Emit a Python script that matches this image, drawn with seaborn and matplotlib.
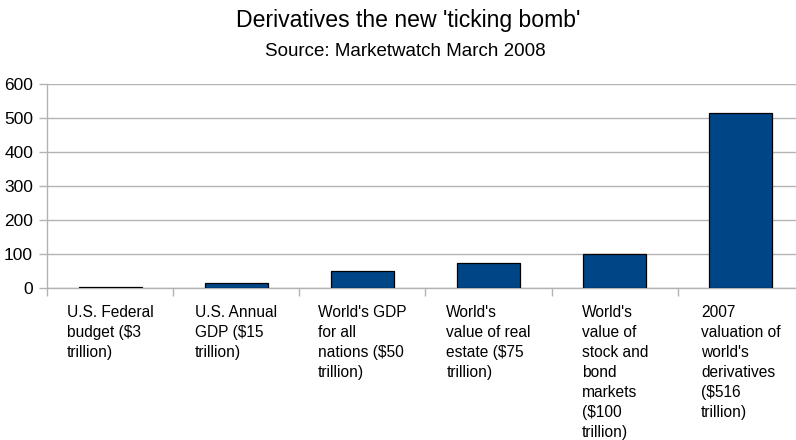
import matplotlib
matplotlib.use("Agg")
import matplotlib.pyplot as plt
import seaborn as sns
import numpy as np

# Category labels (wrapped as shown on the axis) and values in $ trillion
categories = [
    "U.S. Federal\nbudget ($3\ntrillion)",
    "U.S. Annual\nGDP ($15\ntrillion)",
    "World's GDP\nfor all\nnations ($50\ntrillion)",
    "World's\nvalue of real\nestate ($75\ntrillion)",
    "World's\nvalue of\nstock and\nbond\nmarkets\n($100\ntrillion)",
    "2007\nvaluation of\nworld's\nderivatives\n($516\ntrillion)",
]
values = [3, 15, 50, 75, 100, 516]
y_ticks = [0, 100, 200, 300, 400, 500, 600]

title = "Derivatives the new 'ticking bomb'"
subtitle = "Source: Marketwatch March 2008"

sns.set_theme(style="white")
plt.rcParams["font.family"] = ["Liberation Sans", "DejaVu Sans"]

fig = plt.figure(figsize=(7.96, 4.40), dpi=100)
ax = fig.add_axes([47 / 796, 1 - 288 / 440, (804 - 47) / 796, (288 - 84) / 440])

grid_col = "#b3b3b3"
sns.barplot(x=list(range(len(values))), y=values, color="#004586",
            saturation=1, width=0.5, edgecolor="black", linewidth=0.9,
            ax=ax, zorder=3)

ax.set_xlim(-0.5, len(values) - 0.5)
ax.set_ylim(0, 600)
ax.set_yticks(y_ticks)
ax.set_yticklabels([str(v) for v in y_ticks], fontsize=12.5, color="#000000")
ax.yaxis.grid(True, color=grid_col, linewidth=1.0, zorder=0)
ax.xaxis.grid(False)

# Category labels under each slot, block centered with left-aligned lines
ax.set_xticks(range(len(categories)))
ax.set_xticklabels(categories, fontsize=11.2, color="#000000",
                   ha="center", va="top", multialignment="left",
                   linespacing=1.42)
ax.tick_params(axis="x", which="major", length=0, pad=12)

# Boundary tick marks between categories
ax.set_xticks(np.arange(-0.5, len(categories) + 0.5, 1), minor=True)
ax.tick_params(axis="x", which="minor", length=6, width=1, color=grid_col,
               direction="out", bottom=True)
ax.tick_params(axis="y", which="major", length=6, width=1, color=grid_col,
               direction="out", left=True, pad=4)

for side in ["top", "right"]:
    ax.spines[side].set_visible(False)
for side in ["left", "bottom"]:
    ax.spines[side].set_color(grid_col)
    ax.spines[side].set_linewidth(1.0)
ax.set_xlabel("")
ax.set_ylabel("")

fig.text(408 / 796, 1 - 21 / 440, title, ha="center", va="center",
         fontsize=16.6, color="#000000")
fig.text(405 / 796, 1 - 52 / 440, subtitle, ha="center", va="center",
         fontsize=13.5, color="#000000")

fig.savefig("out.png", dpi=100)
